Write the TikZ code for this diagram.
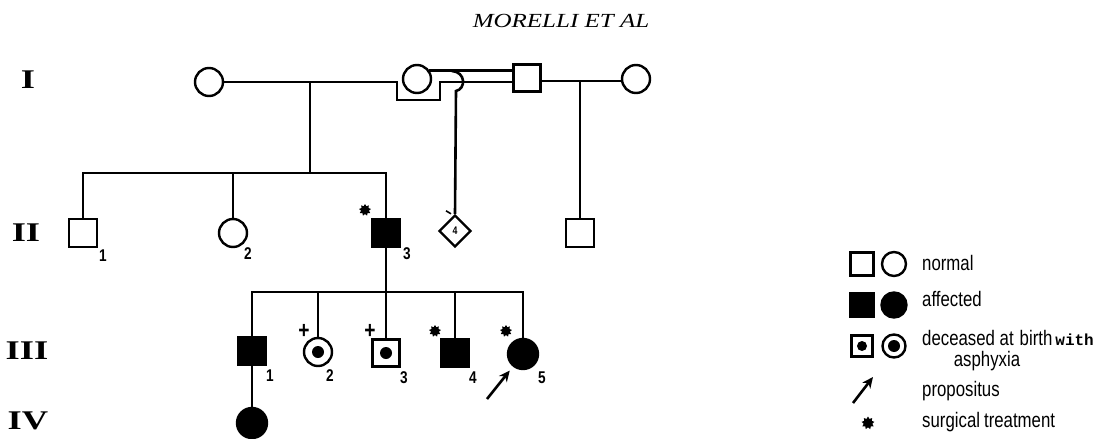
\documentclass[tikz,border=0pt]{standalone}
\usepackage{fontspec}
\setmainfont{Liberation Serif}
\newfontfamily\cond[FakeStretch=0.8]{Liberation Sans}
\newfontfamily\monob{Liberation Mono}
\newfontfamily\titlef[FakeStretch=1.25]{Liberation Serif}
\newfontfamily\romf[FakeStretch=1.35]{Liberation Serif}
\usetikzlibrary{shapes.geometric,arrows.meta}
\begin{document}
\begin{tikzpicture}[x=1pt,y=-1pt,
  ln/.style={line width=2.6pt},
  sq/.style={draw, rectangle, minimum size=28pt, inner sep=0pt, line width=2.4pt},
  ci/.style={draw, circle, minimum size=28pt, inner sep=0pt, line width=2.4pt},
  aff/.style={fill=black},
  dec/.style={path picture={\fill (path picture bounding box.center) circle (#1);}},
  dec/.default=6pt,
  surg/.style={star, star points=9, star point ratio=1.5, fill=black, minimum size=12pt, inner sep=0pt},
  num/.style={font=\cond\bfseries\fontsize{17}{17}\selectfont, inner sep=0pt},
  gen/.style={font=\romf\bfseries\fontsize{27}{27}\selectfont, inner sep=0pt},
  leg/.style={font=\cond\fontsize{21}{21}\selectfont, inner sep=0pt, anchor=west},
  plus/.style={font=\cond\bfseries\fontsize{24}{24}\selectfont, inner sep=0pt},
  arr/.style={line width=2.6pt, -{Stealth[length=11pt,width=10pt]}}
]
\useasboundingbox (0,0) rectangle (1117,439);

% title
\node[font=\titlef\itshape\fontsize{20}{20}\selectfont, inner sep=0pt] (title) at (561,21) {MORELLI ET AL};

% generation labels
\node[gen] (gI) at (28,80) {I};
\node[gen] (gII) at (26,233) {II};
\node[gen] (gIII) at (27,351) {III};
\node[gen] (gIV) at (28,421) {IV};

% generation I
\node[ci] (A) at (209,82) {};
\node[ci] (B) at (417,79) {};
\node[sq, minimum size=27pt] (S) at (527,78) {};
\node[ci] (D) at (636,79) {};

\coordinate (l1) at (397,82);
\coordinate (l2) at (397,100);
\coordinate (l3) at (440,100);
\coordinate (l4) at (440,82);
\draw[ln] (A) -- (l1) -- (l2) -- (l3) -- (l4) -- (S.west |- l4);
\draw[ln] (B.35) -- (S.west |- B.35);
\coordinate (ab) at (310,82);
\coordinate (sd) at (580,81);
\draw[ln] (S.east |- sd) -- (D.west |- sd);

% generation II
\node[sq] (II1) at (83,233) {};
\node[ci] (II2) at (233,233) {};
\node[sq, aff] (II3) at (386,233) {};
\node[diamond, draw, line width=2.4pt, minimum size=32pt, inner sep=0pt,
      font=\cond\bfseries\fontsize{11}{11}\selectfont] (II4) at (455,231) {4};
\node[sq] (II5) at (580,233) {};

\coordinate (s2) at (310,173);
\draw[ln] (ab) -- (s2);
\draw[ln] (II1.north) -- (II1 |- s2) -- (II3 |- s2) -- (II3.north);
\draw[ln] (II2.north) -- (II2 |- s2);
\coordinate (h0) at (452,71);
\coordinate (h1) at (456,91);
\draw[ln] (h0) .. controls (466,72) and (466,89) .. (h1) -- (II4.north);
\draw[line width=1.6pt] (II4.north) ++(-9,-3) -- ++(5,3);
\draw[ln] (sd) -- (II5.north);

\node[num] (n21) at (103,256) {1};
\node[num] (n22) at (248,254) {2};
\node[num] (n23) at (407,254) {3};
\node[surg] (m23) at (365,210) {};

% generation III
\node[sq, aff] (III1) at (252,351) {};
\node[ci, dec] (III2) at (318,352) {};
\node[sq, dec, minimum size=27pt] (III3) at (386,353) {};
\node[sq, aff] (III4) at (455,353) {};
\node[ci, aff, minimum size=30pt] (III5) at (523,354) {};

\coordinate (s3) at (386,292);
\draw[ln] (II3.south) -- (s3);
\draw[ln] (III1.north) -- (III1 |- s3) -- (III5 |- s3) -- (III5.north);
\draw[ln] (III2.north) -- (III2 |- s3);
\draw[ln] (III3.north) -- (III3 |- s3);
\draw[ln] (III4.north) -- (III4 |- s3);

\node[plus] (p32) at (304,331) {+};
\node[plus] (p33) at (370,331) {+};
\node[surg] (m34) at (435,331) {};
\node[surg] (m35) at (506,331) {};

\node[num] (n31) at (270,376) {1};
\node[num] (n32) at (330,376) {2};
\node[num] (n33) at (404,378) {3};
\node[num] (n34) at (473,378) {4};
\node[num] (n35) at (542,378) {5};

\coordinate (ar0) at (487,399);
\draw[arr, shorten >=5pt] (ar0) -- (III5);

% generation IV
\node[ci, aff, minimum size=30pt] (IV1) at (252,423) {};
\draw[ln] (III1.south) -- (IV1.north);

% legend
\node[sq, minimum size=23pt] (Ln1) at (862,264) {};
\node[ci, minimum size=24pt] (Ln2) at (894,264) {};
\node[sq, aff, minimum size=24pt] (La1) at (862,305) {};
\node[ci, aff, minimum size=25pt] (La2) at (894,305) {};
\node[sq, dec=5pt, minimum size=21pt] (Ld1) at (862,346) {};
\node[ci, dec=6pt, minimum size=23pt] (Ld2) at (894,346) {};
\coordinate (la0) at (853,403);
\coordinate (la1) at (873,377);
\draw[arr] (la0) -- (la1);
\node[surg, minimum size=13pt] (ls) at (868,423) {};

\node[leg] (t1) at (922,263) {normal};
\node[leg] (t2) at (922,299) {affected};
\node[leg] (t3) at (922,338) {deceased at\hspace{6pt}birth\hspace{3pt}{\monob\bfseries\fontsize{16}{16}\selectfont with}};
\node[leg, anchor=center] (t3b) at (987,361) {asphyxia};
\node[leg] (t4) at (922,391) {propositus};
\node[leg] (t5) at (922,422) {surgical\hspace{4pt}treatment};
\end{tikzpicture}
\end{document}
